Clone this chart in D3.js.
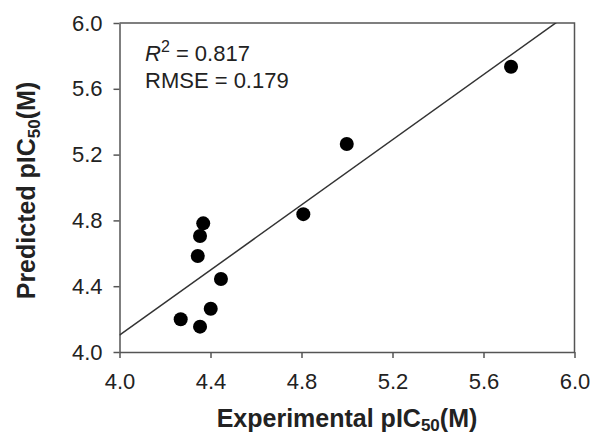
<!DOCTYPE html>
<html>
<head>
<meta charset="utf-8">
<script src="https://cdn.jsdelivr.net/npm/d3@7"></script>
<style>
  body { margin: 0; background: #fff; }
  text { font-family: "Liberation Sans", Arial, sans-serif; }
</style>
</head>
<body>
<script>
// experimental vs predicted pIC50
var experimental = [4.368, 4.354, 4.344, 4.446, 4.401, 4.269, 4.354, 4.808, 4.999, 5.721];
var predicted    = [4.782, 4.705, 4.584, 4.444, 4.263, 4.199, 4.154, 4.838, 5.264, 5.734];
var tickValues = [4.0, 4.4, 4.8, 5.2, 5.6, 6.0];
var fitSlope = 0.99, fitIntercept = 0.142;
var statLines = ["0.817", "0.179"];

var svg = d3.select('body').append('svg')
  .attr('width', 591)
  .attr('height', 435);

var margin = { top: 23, right: 16.5, bottom: 83, left: 119.5 },
  width = +svg.attr("width") - margin.left - margin.right,
  height = +svg.attr("height") - margin.top - margin.bottom,
  g = svg.append("g").attr("transform", "translate(" + margin.left + "," + margin.top + ")");

var x = d3.scaleLinear().domain([4, 6]).range([0, width]);
var y = d3.scaleLinear().domain([4, 6]).range([height, 0]);

svg.append("defs").append("clipPath").attr("id", "clip")
  .append("rect").attr("width", width).attr("height", height);

// frame (top + right)
g.append("path")
  .attr("d", "M0,0H" + width + "V" + height)
  .attr("fill", "none")
  .attr("stroke", "#555")
  .attr("stroke-width", 1.5);

var xAxis = g.append("g")
  .attr("transform", "translate(0," + height + ")")
  .call(d3.axisBottom(x).tickValues(tickValues).tickFormat(d3.format(".1f")).tickSize(6).tickPadding(15).tickSizeOuter(0));

var yAxis = g.append("g")
  .call(d3.axisLeft(y).tickValues(tickValues).tickFormat(d3.format(".1f")).tickSize(6).tickPadding(11).tickSizeOuter(0));

[xAxis, yAxis].forEach(function (a) {
  a.select(".domain").attr("stroke", "#555").attr("stroke-width", 1.5);
  a.selectAll(".tick line").attr("stroke", "#555").attr("stroke-width", 1.5);
  a.selectAll(".tick text")
    .attr("fill", "#222")
    .style("font-size", "22px")
    .style("font-family", "'Liberation Sans', Arial, sans-serif");
});

// regression line
g.append("line")
  .attr("clip-path", "url(#clip)")
  .attr("x1", x(4)).attr("y1", y(fitIntercept + fitSlope * 4))
  .attr("x2", x(6)).attr("y2", y(fitIntercept + fitSlope * 6))
  .attr("stroke", "#333")
  .attr("stroke-width", 1.5);

// points
g.selectAll("circle.pt")
  .data(experimental)
  .enter().append("circle")
  .attr("class", "pt")
  .attr("cx", function (d) { return x(d); })
  .attr("cy", function (d, i) { return y(predicted[i]); })
  .attr("r", 7)
  .attr("fill", "#000");

// stats
var t1 = g.append("text")
  .attr("x", 25.5).attr("y", 38)
  .style("font-size", "22px")
  .attr("fill", "#222");
t1.append("tspan").style("font-style", "italic").text("R");
t1.append("tspan").attr("dy", -9).style("font-size", "16px").text("2");
t1.append("tspan").attr("dy", 9).text(" = " + statLines[0]);

g.append("text")
  .attr("x", 25.5).attr("y", 65)
  .style("font-size", "22px")
  .attr("fill", "#222")
  .text("RMSE = " + statLines[1]);

// axis titles
var xt = svg.append("text")
  .attr("x", margin.left + width / 2)
  .attr("y", 427)
  .style("text-anchor", "middle")
  .style("font-size", "25px")
  .style("font-weight", "bold")
  .attr("fill", "#222");
xt.append("tspan").text("Experimental pIC");
xt.append("tspan").attr("dy", 4).style("font-size", "17px").text("50");
xt.append("tspan").attr("dy", -4).text("(M)");

var yt = svg.append("text")
  .attr("transform", "translate(35," + (margin.top + height / 2 + 3) + ") rotate(-90)")
  .style("text-anchor", "middle")
  .style("font-size", "25px")
  .style("font-weight", "bold")
  .attr("fill", "#222");
yt.append("tspan").text("Predicted pIC");
yt.append("tspan").attr("dy", 5).style("font-size", "17px").text("50");
yt.append("tspan").attr("dy", -5).text("(M)");
</script>
</body>
</html>
